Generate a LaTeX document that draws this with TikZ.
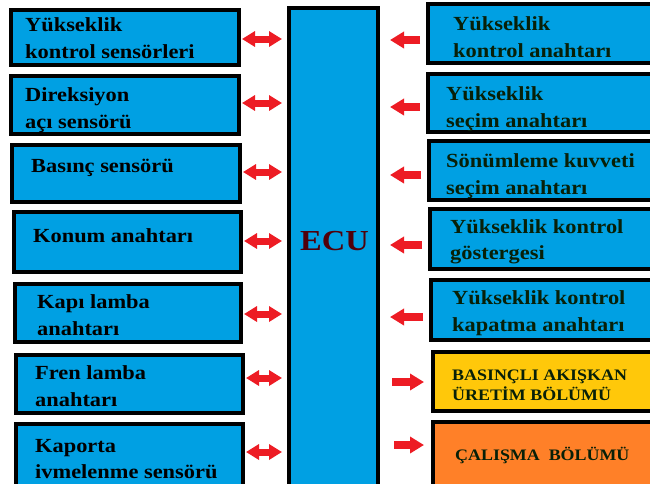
\documentclass[tikz,border=0pt]{standalone}
\usepackage{fontspec}
\setmainfont[FakeStretch=1.12]{Liberation Serif}
\usetikzlibrary{arrows.meta,calc}
\definecolor{boxblue}{RGB}{0,160,227}
\definecolor{boxyellow}{RGB}{255,200,10}
\definecolor{boxorange}{RGB}{255,128,40}
\definecolor{arrred}{RGB}{237,28,36}
\definecolor{rtext}{RGB}{8,32,8}
\definecolor{ecutext}{RGB}{80,0,10}
\begin{document}
\begin{tikzpicture}[x=1pt,y=-1pt,
  box/.style={draw=black,line width=4pt,fill=boxblue,anchor=north west,inner sep=0pt,outer sep=0pt},
  lt/.style={anchor=west,align=left,inner sep=0pt,font=\fontsize{20}{26.5}\selectfont\bfseries,text=black},
  rt/.style={lt,text=rtext},
  st/.style={anchor=west,align=left,inner sep=0pt,font=\fontsize{16}{20}\selectfont\bfseries,text=rtext},
  dbl/.style={draw=arrred,line width=7pt,{Triangle[width=15pt,length=13pt]}-{Triangle[width=15pt,length=13pt]}},
  sgl/.style={draw=arrred,line width=8pt,-{Triangle[width=16pt,length=14pt]}}]
\useasboundingbox (0,0) rectangle (650,483);
\fill[white] (0,0) rectangle (650,483);
\clip (0,0) rectangle (650,483);
% left boxes
\node[box,minimum width=228pt,minimum height=55pt] (L1) at (11,10) {};
\node[box,minimum width=228pt,minimum height=58pt] (L2) at (11,76) {};
\node[box,minimum width=228pt,minimum height=57pt] (L3) at (12,145) {};
\node[box,minimum width=227pt,minimum height=60pt] (L4) at (14,212) {};
\node[box,minimum width=226pt,minimum height=58pt] (L5) at (15,284) {};
\node[box,minimum width=227pt,minimum height=58pt] (L6) at (16,355) {};
\node[box,minimum width=227pt,minimum height=76pt] (L7) at (16,424) {};
% ECU
\node[box,minimum width=89pt,minimum height=492pt] (ECU) at (289,8) {};
\node[anchor=west,inner sep=0pt,font=\fontsize{29}{34}\selectfont\bfseries,text=ecutext] (ecut) at (300,241) {ECU};
% right boxes
\node[box,minimum width=242pt,minimum height=59pt] (R1) at (428,4) {};
\node[box,minimum width=242pt,minimum height=58pt] (R2) at (428,74) {};
\node[box,minimum width=241pt,minimum height=59pt] (R3) at (429,141) {};
\node[box,minimum width=240pt,minimum height=60pt] (R4) at (430,209) {};
\node[box,minimum width=239pt,minimum height=60pt] (R5) at (431,280) {};
\node[box,fill=boxyellow,minimum width=237pt,minimum height=59pt] (R6) at (433,352) {};
\node[box,fill=boxorange,minimum width=237pt,minimum height=78pt] (R7) at (433,422) {};
% left texts
\node[lt] (tL1) at (25,38) {Yükseklik\\kontrol sensörleri};
\node[lt] (tL2) at (25,110) {Direksiyon\\açı sensörü};
\node[lt] (tL3) at (31,168) {Basınç sensörü};
\node[lt] (tL4) at (33,236) {Konum anahtarı};
\node[lt] (tL5) at (37,315) {Kapı lamba\\anahtarı};
\node[lt] (tL6) at (35,386) {Fren lamba\\anahtarı};
\node[lt] (tL7) at (35,459) {Kaporta\\ivmelenme sensörü};
% right texts
\node[rt] (tR1) at (453,37) {Yükseklik\\kontrol anahtarı};
\node[rt] (tR2) at (446,109) {Yükseklik\\seçim anahtarı};
\node[rt] (tR3) at (446,176) {Sönümleme kuvveti\\seçim anahtarı};
\node[rt] (tR4) at (450,242) {Yükseklik kontrol\\göstergesi};
\node[rt] (tR5) at (452,313) {Yükseklik kontrol\\kapatma anahtarı};
\node[st] (tR6) at (452,385) {BASINÇLI AKIŞKAN\\ÜRETİM BÖLÜMÜ};
\node[st] (tR7) at (455,455) {ÇALIŞMA\ \ BÖLÜMÜ};
% left double arrows
\draw[dbl] ($(L1.east)+(3,1.5)$) -- ($(ECU.west |- L1.east)+(-7,1.5)$);
\draw[dbl] ($(L2.east)+(3,-2)$) -- ($(ECU.west |- L2.east)+(-7,-2)$);
\draw[dbl] ($(L3.east)+(3,-1.5)$) -- ($(ECU.west |- L3.east)+(-7,-1.5)$);
\draw[dbl] ($(L4.east)+(3,-1)$) -- ($(ECU.west |- L4.east)+(-7,-1)$);
\draw[dbl] ($(L5.east)+(3,1)$) -- ($(ECU.west |- L5.east)+(-7,1)$);
\draw[dbl] ($(L6.east)+(3,-6)$) -- ($(ECU.west |- L6.east)+(-7,-6)$);
\draw[dbl] ($(L7.east)+(3,-10)$) -- ($(ECU.west |- L7.east)+(-7,-10)$);
% right arrows
\draw[sgl] ($(R1.west)+(-8,6.5)$) -- ($(ECU.east |- R1.west)+(12,6.5)$);
\draw[sgl] ($(R2.west)+(-8,4)$) -- ($(ECU.east |- R2.west)+(12,4)$);
\draw[sgl] ($(R3.west)+(-8,4.5)$) -- ($(ECU.east |- R3.west)+(12,4.5)$);
\draw[sgl] ($(R4.west)+(-8,6)$) -- ($(ECU.east |- R4.west)+(12,6)$);
\draw[sgl] ($(R5.west)+(-8,7)$) -- ($(ECU.east |- R5.west)+(12,7)$);
\draw[sgl] ($(ECU.east |- R6.west)+(14,0.5)$) -- ($(R6.west)+(-9,0.5)$);
\draw[sgl] ($(ECU.east |- R7.west)+(16,-16)$) -- ($(R7.west)+(-9,-16)$);
\end{tikzpicture}
\end{document}
